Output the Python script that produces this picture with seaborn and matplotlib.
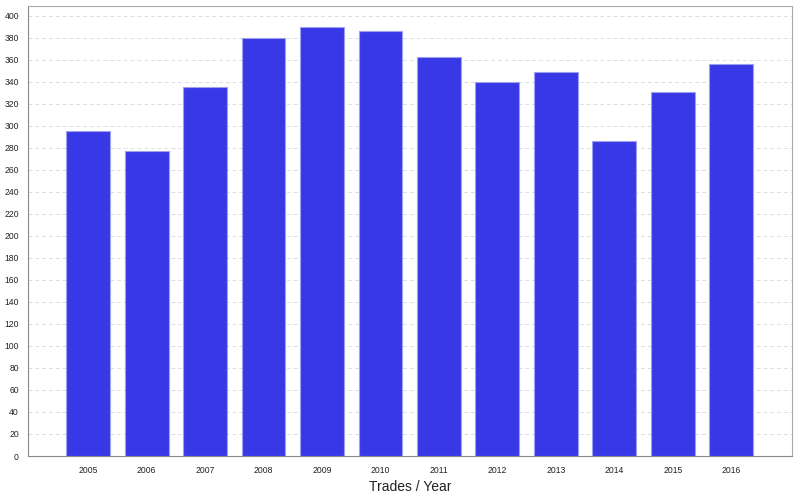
import pandas as pd
import matplotlib
matplotlib.use("Agg")
import matplotlib.pyplot as plt
import seaborn as sns

years = ["2005", "2006", "2007", "2008", "2009", "2010", "2011", "2012", "2013", "2014", "2015", "2016"]
trades = [295, 277, 335, 380, 390, 386, 363, 340, 349, 286, 331, 356]

df = pd.DataFrame({"year": years, "trades": trades})

sns.set_style("white")
plt.rcParams["font.family"] = ["Liberation Sans", "DejaVu Sans"]

fig = plt.figure(figsize=(8, 5), dpi=100)
ax = fig.add_axes([0.035, 0.088, 0.955, 0.9])

sns.barplot(data=df, x="year", y="trades", color="#3838E6", saturation=1,
            width=0.75, edgecolor="#a0a0f0", linewidth=0.8, ax=ax, zorder=3)

ax.set_xlim(-1.03, 12.04)
ax.set_ylim(0, 409)
ax.set_yticks(range(0, 401, 20))
ax.yaxis.grid(True, linestyle=(0, (4, 3)), color="#dddddd", linewidth=0.7, zorder=0)
ax.set_axisbelow(True)

for s in ax.spines.values():
    s.set_color("#aaaaaa")
    s.set_linewidth(0.8)
ax.spines["left"].set_color("#888888")
ax.spines["bottom"].set_color("#888888")

ax.tick_params(axis="both", labelsize=6.2, colors="#888888", labelcolor="#222222",
               length=3, width=0.6, direction="out")
ax.tick_params(axis="x", pad=4)
ax.set_xlabel("Trades / Year", fontsize=10, color="#222222", labelpad=4)
ax.set_ylabel("")

fig.savefig("out.png", dpi=100)
